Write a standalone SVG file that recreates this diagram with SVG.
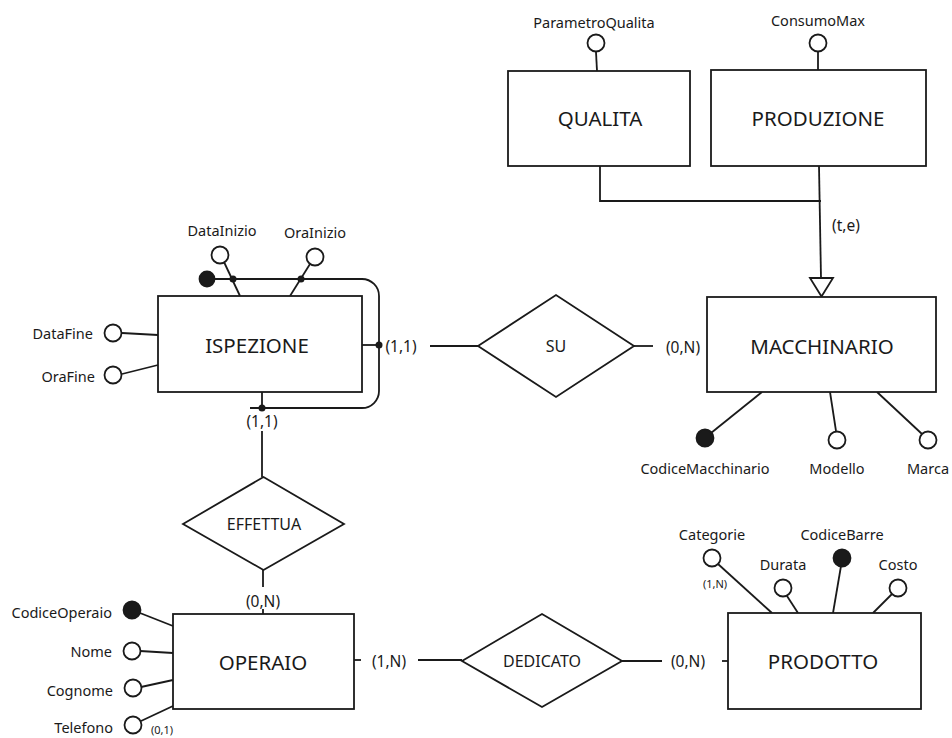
<svg xmlns="http://www.w3.org/2000/svg" width="952" height="738" viewBox="0 0 952 738">
<style>
.ent{fill:#fff;stroke:#1a1a1a;stroke-width:1.8}
.rel{fill:#fff;stroke:#1a1a1a;stroke-width:1.8}
.ln{fill:none;stroke:#1a1a1a;stroke-width:1.8}
.at{fill:#fff;stroke:#1a1a1a;stroke-width:1.8}
.key{fill:#1a1a1a;stroke:#1a1a1a;stroke-width:1.8}
.dot{fill:#1a1a1a}
text{font-family:"Noto Sans","Open Sans",sans-serif;fill:#1a1a1a;dominant-baseline:central}
.en{font-size:20.5px;text-anchor:middle}
.rn{font-size:16px;text-anchor:middle}
.an{font-size:14.5px;text-anchor:middle}
.al{font-size:14.5px;text-anchor:end}
.cd{font-size:15.5px;text-anchor:middle}
.sm{font-size:11px;text-anchor:middle}
</style>
<g id="connectors">
<path class="ln" d="M600 166 V201 H821"/>
<path class="ln" d="M819 166 L821 278"/>
<polygon class="at" points="810,278 833,278 821.5,296.5"/>
<path class="ln" d="M362 345 H379"/>
<path class="ln" d="M430 346 H478"/>
<path class="ln" d="M634 346 H653"/>
<path class="ln" d="M262 392 V408"/>
<path class="ln" d="M207 279 H362 A17 17 0 0 1 379 296 V391 A17 17 0 0 1 362 408 H250"/>
<circle class="dot" cx="379" cy="345" r="3.5"/>
<circle class="dot" cx="262" cy="408" r="3.5"/>
<path class="ln" d="M262 431 V477"/>
<path class="ln" d="M263 570 V587"/>
<path class="ln" d="M263 609 V614"/>
<path class="ln" d="M354 660 H361"/>
<path class="ln" d="M418 660 H462"/>
<path class="ln" d="M622 661 H662"/>
<path class="ln" d="M722 661 H728"/>
</g>
<g id="attributes">
<g id="attr-ParametroQualita"><line class="ln" x1="596" y1="52" x2="597" y2="71"/><circle class="at" cx="596" cy="43" r="8.5"/><text class="an" x="594" y="22">ParametroQualita</text></g>
<g id="attr-ConsumoMax"><line class="ln" x1="818" y1="52" x2="818" y2="70"/><circle class="at" cx="818" cy="43" r="8.5"/><text class="an" x="818" y="20">ConsumoMax</text></g>
<g id="attr-DataInizio"><line class="ln" x1="224" y1="262" x2="240" y2="296"/><circle class="at" cx="220" cy="255" r="8.5"/><circle class="dot" cx="233" cy="279" r="3.5"/><text class="an" x="222" y="230">DataInizio</text></g>
<g id="attr-OraInizio"><line class="ln" x1="310" y1="264" x2="290" y2="296"/><circle class="at" cx="315" cy="257" r="8.5"/><circle class="dot" cx="301" cy="279" r="3.5"/><text class="an" x="315" y="232">OraInizio</text></g>
<g id="attr-ISPEZIONE-key"><circle class="key" cx="207" cy="279" r="7.5"/></g>
<g id="attr-DataFine"><line class="ln" x1="122" y1="333" x2="158" y2="335"/><circle class="at" cx="113" cy="333" r="8.5"/><text class="al" x="93" y="333">DataFine</text></g>
<g id="attr-OraFine"><line class="ln" x1="122" y1="374" x2="158" y2="365"/><circle class="at" cx="113" cy="375" r="8.5"/><text class="al" x="95" y="376">OraFine</text></g>
<g id="attr-CodiceMacchinario"><line class="ln" x1="711" y1="433" x2="762" y2="392"/><circle class="key" cx="705" cy="438" r="8.5"/><text class="an" x="705" y="468">CodiceMacchinario</text></g>
<g id="attr-Modello"><line class="ln" x1="836" y1="431" x2="830" y2="392"/><circle class="at" cx="837" cy="440" r="8.5"/><text class="an" x="837" y="468">Modello</text></g>
<g id="attr-Marca"><line class="ln" x1="922" y1="434" x2="877" y2="392"/><circle class="at" cx="928" cy="440" r="8.5"/><text class="an" x="928" y="468">Marca</text></g>
<g id="attr-Categorie"><line class="ln" x1="718" y1="564" x2="772" y2="613"/><circle class="at" cx="712" cy="558" r="8.5"/><text class="an" x="712" y="534">Categorie</text><text class="sm" x="715" y="583">(1,N)</text></g>
<g id="attr-Durata"><line class="ln" x1="787" y1="596" x2="798" y2="613"/><circle class="at" cx="783" cy="588" r="8.5"/><text class="an" x="783" y="564">Durata</text></g>
<g id="attr-CodiceBarre"><line class="ln" x1="841" y1="566" x2="833" y2="613"/><circle class="key" cx="842" cy="558" r="8.5"/><text class="an" x="842" y="534">CodiceBarre</text></g>
<g id="attr-Costo"><line class="ln" x1="892" y1="594" x2="873" y2="613"/><circle class="at" cx="898" cy="588" r="8.5"/><text class="an" x="898" y="564">Costo</text></g>
<g id="attr-CodiceOperaio"><line class="ln" x1="140" y1="613" x2="173" y2="626"/><circle class="key" cx="132" cy="610" r="8.5"/><text class="al" x="112" y="612">CodiceOperaio</text></g>
<g id="attr-Nome"><line class="ln" x1="140" y1="651" x2="173" y2="653"/><circle class="at" cx="132" cy="651" r="8.5"/><text class="al" x="112" y="651">Nome</text></g>
<g id="attr-Cognome"><line class="ln" x1="141" y1="687" x2="173" y2="680"/><circle class="at" cx="133" cy="688" r="8.5"/><text class="al" x="113" y="690">Cognome</text></g>
<g id="attr-Telefono"><line class="ln" x1="141" y1="721" x2="173" y2="706"/><circle class="at" cx="133" cy="725" r="8.5"/><text class="al" x="113" y="727">Telefono</text><text class="sm" x="162" y="729">(0,1)</text></g>
</g>
<g id="QUALITA"><rect class="ent" x="508" y="71" width="182" height="95"/><text class="en" x="600" y="118">QUALITA</text></g>
<g id="PRODUZIONE"><rect class="ent" x="711" y="70" width="215" height="96"/><text class="en" x="818" y="118">PRODUZIONE</text></g>
<g id="MACCHINARIO"><rect class="ent" x="707" y="297" width="229" height="95"/><text class="en" x="822" y="346">MACCHINARIO</text></g>
<g id="ISPEZIONE"><rect class="ent" x="158" y="296" width="204" height="96"/><text class="en" x="257" y="345">ISPEZIONE</text></g>
<g id="OPERAIO"><rect class="ent" x="173" y="614" width="181" height="95"/><text class="en" x="263" y="662">OPERAIO</text></g>
<g id="PRODOTTO"><rect class="ent" x="728" y="613" width="193" height="96"/><text class="en" x="823" y="661">PRODOTTO</text></g>
<g id="SU"><polygon class="rel" points="478,346 556,295 634,346 556,397"/><text class="rn" x="556" y="346">SU</text></g>
<g id="EFFETTUA"><polygon class="rel" points="183,524 263.5,477 344,524 263.5,570"/><text class="rn" x="264" y="524">EFFETTUA</text></g>
<g id="DEDICATO"><polygon class="rel" points="462,661 542,614 622,661 542,707"/><text class="rn" x="542" y="661">DEDICATO</text></g>
<g id="labels">
<text class="cd" x="846" y="225">(t,e)</text>
<text class="cd" x="401" y="346">(1,1)</text>
<text class="cd" x="683" y="347">(0,N)</text>
<text class="cd" x="262" y="421">(1,1)</text>
<text class="cd" x="263" y="601">(0,N)</text>
<text class="cd" x="389" y="661">(1,N)</text>
<text class="cd" x="688" y="661">(0,N)</text>
</g>
</svg>
